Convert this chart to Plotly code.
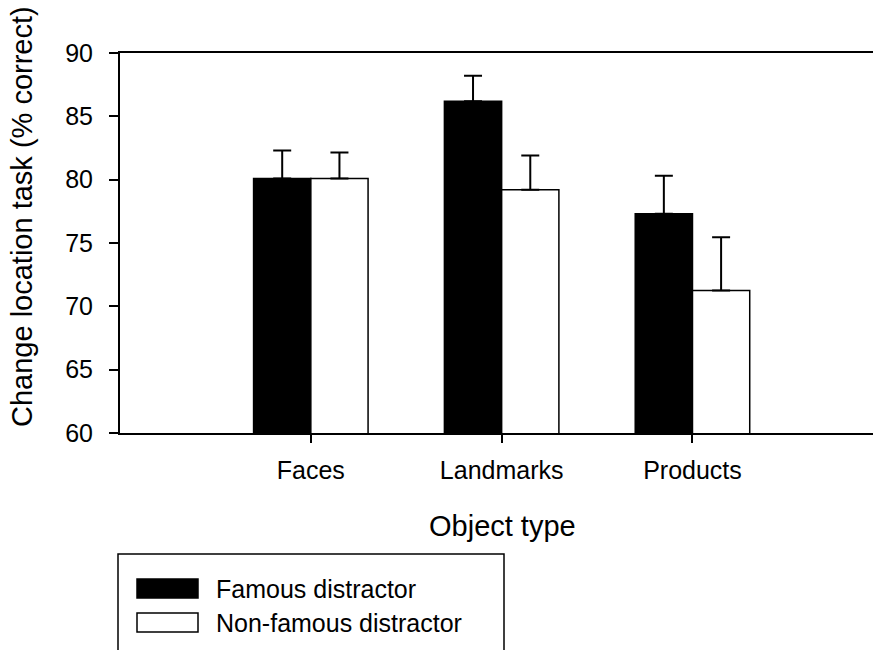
import plotly.graph_objects as go

categories = ["Faces", "Landmarks", "Products"]
series_names = ["Famous distractor", "Non-famous distractor"]
famous = [80.1, 86.2, 77.3]
famous_err = [2.2, 2.0, 3.0]
nonfamous = [80.1, 79.2, 71.25]
nonfamous_err = [2.05, 2.7, 4.2]
y_ticks = [60, 65, 70, 75, 80, 85, 90]

FONT = "Liberation Sans, Arial, Helvetica, sans-serif"
W, H = 873, 650
L, R, T, B = 120, 0, 53, 217
PW, PH = W - L - R, H - T - B


def px(x):
    return (x - L) / PW


def py(y):
    return (H - B - y) / PH


fig = go.Figure()
fig.add_trace(go.Bar(
    x=categories, y=famous, name=series_names[0],
    marker=dict(color="black", line=dict(color="black", width=1.5)),
    error_y=dict(type="data", array=famous_err, arrayminus=[0] * 3, symmetric=False,
                 color="black", thickness=2, width=9),
))
fig.add_trace(go.Bar(
    x=categories, y=nonfamous, name=series_names[1],
    marker=dict(color="white", line=dict(color="black", width=1.5)),
    error_y=dict(type="data", array=nonfamous_err, arrayminus=[0] * 3, symmetric=False,
                 color="black", thickness=2, width=9),
))

shapes = [
    # legend box
    dict(type="rect", xref="paper", yref="paper", x0=px(118), x1=px(504), y0=py(554), y1=py(670),
         line=dict(color="black", width=1.5), fillcolor="rgba(0,0,0,0)"),
    dict(type="rect", xref="paper", yref="paper", x0=px(137), x1=px(198), y0=py(579), y1=py(598),
         line=dict(color="black", width=1.5), fillcolor="black"),
    dict(type="rect", xref="paper", yref="paper", x0=px(137), x1=px(198), y0=py(613), y1=py(632),
         line=dict(color="black", width=1.5), fillcolor="white"),
]

annotations = [
    dict(text="Change location task (% correct)", textangle=-90, xref="paper", yref="paper",
         x=px(22), y=py(217), xanchor="center", yanchor="middle", showarrow=False,
         font=dict(family=FONT, size=29, color="black")),
    dict(text="Object type", xref="paper", yref="paper", x=px(502), y=py(526),
         xanchor="center", yanchor="middle", showarrow=False,
         font=dict(family=FONT, size=29, color="black")),
    dict(text=series_names[0], xref="paper", yref="paper", x=px(214), y=py(589),
         xanchor="left", yanchor="middle", showarrow=False,
         font=dict(family=FONT, size=25, color="black")),
    dict(text=series_names[1], xref="paper", yref="paper", x=px(214), y=py(623),
         xanchor="left", yanchor="middle", showarrow=False,
         font=dict(family=FONT, size=25, color="black")),
]

fig.update_layout(
    width=W, height=H,
    margin=dict(l=L, r=R, t=T, b=B, pad=0),
    paper_bgcolor="white", plot_bgcolor="white",
    barmode="group", bargap=0.4, bargroupgap=0,
    showlegend=False,
    font=dict(family=FONT, size=25, color="black"),
    shapes=shapes, annotations=annotations,
)
fig.update_xaxes(
    type="category", range=[-1, 2.946],
    showline=True, linecolor="black", linewidth=2, mirror=True,
    ticks="outside", ticklen=8, tickwidth=1.5, tickcolor="black",
    showgrid=False, zeroline=False,
    tickfont=dict(family=FONT, size=25, color="black"),
    ticklabelstandoff=6,
)
fig.update_yaxes(
    range=[60, 90], tickvals=y_ticks, ticktext=[str(v) for v in y_ticks],
    showline=True, linecolor="black", linewidth=2, mirror=False,
    ticks="outside", ticklen=9, tickwidth=1.5, tickcolor="black",
    showgrid=False, zeroline=False,
    tickfont=dict(family=FONT, size=25, color="black"),
    ticklabelstandoff=11,
)

fig.write_html("out.html")
